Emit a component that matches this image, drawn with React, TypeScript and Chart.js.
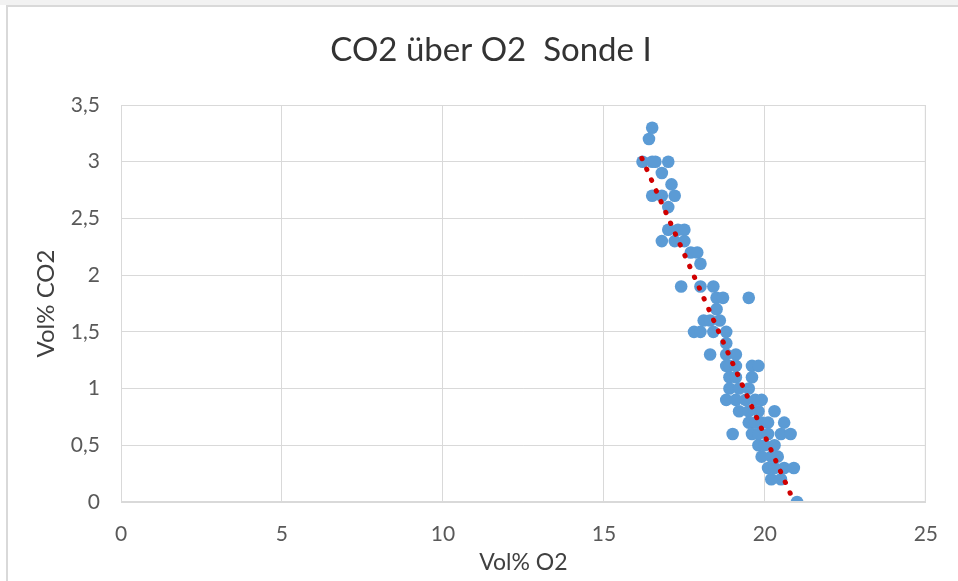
import React, { useEffect, useRef } from "react";
import { Chart, registerables } from "chart.js";

Chart.register(...registerables);

// Measured points: Vol% O2 (x) and Vol% CO2 (y)
const o2Values: number[] = [
  16.5, 16.4,
  16.2, 16.5, 16.6, 17.0,
  16.8, 17.1,
  16.5, 16.8, 17.2, 17.0,
  17.0, 17.3, 17.5,
  16.8, 17.2, 17.5,
  17.7, 17.9, 18.0,
  17.4, 18.0, 18.4,
  18.5, 18.7, 19.5, 18.5,
  18.1, 18.3, 18.6,
  17.8, 18.0, 18.4, 18.8,
  18.8,
  18.3, 18.8, 19.1,
  18.8, 18.9, 19.1, 19.6, 19.8,
  18.9, 19.1, 19.6,
  18.9, 19.2, 19.5,
  18.8, 19.1, 19.4, 19.7, 19.9,
  19.2, 19.5, 19.8, 20.3,
  19.5, 19.7, 19.9, 20.1, 20.6,
  19.0, 19.6, 19.8, 20.1, 20.5, 20.8,
  19.8, 20.0, 20.3,
  19.9, 20.2, 20.4,
  20.1, 20.3, 20.6, 20.9,
  20.2, 20.5,
  21.0,
];
const co2Values: number[] = [
  3.3, 3.2,
  3.0, 3.0, 3.0, 3.0,
  2.9, 2.8,
  2.7, 2.7, 2.7, 2.6,
  2.4, 2.4, 2.4,
  2.3, 2.3, 2.3,
  2.2, 2.2, 2.1,
  1.9, 1.9, 1.9,
  1.8, 1.8, 1.8, 1.7,
  1.6, 1.6, 1.6,
  1.5, 1.5, 1.5, 1.5,
  1.4,
  1.3, 1.3, 1.3,
  1.2, 1.2, 1.2, 1.2, 1.2,
  1.1, 1.1, 1.1,
  1.0, 1.0, 1.0,
  0.9, 0.9, 0.9, 0.9, 0.9,
  0.8, 0.8, 0.8, 0.8,
  0.7, 0.7, 0.7, 0.7, 0.7,
  0.6, 0.6, 0.6, 0.6, 0.6, 0.6,
  0.5, 0.5, 0.5,
  0.4, 0.4, 0.4,
  0.3, 0.3, 0.3, 0.3,
  0.2, 0.2,
  0.0,
];

// Linear trend line end points
const trendO2: number[] = [16.18, 20.83];
const trendCO2: number[] = [3.03, 0.05];

const titleText = "CO2 über O2  Sonde I";
const xTitle = "Vol% O2";
const yTitle = "Vol% CO2";

const FONT = "Lato, 'Open Sans', sans-serif";

export default function App() {
  const canvasRef = useRef<HTMLCanvasElement | null>(null);

  useEffect(() => {
    const canvas = canvasRef.current;
    if (!canvas) return;
    const points = o2Values.map((x, i) => ({ x, y: co2Values[i] }));
    const trend = trendO2.map((x, i) => ({ x, y: trendCO2[i] }));

    const chart = new Chart(canvas, {
      type: "scatter",
      data: {
        datasets: [
          {
            type: "line",
            label: "Trend",
            data: trend,
            showLine: true,
            borderColor: "#D00000",
            borderWidth: 5,
            borderDash: [0.5, 11.3],
            borderCapStyle: "round",
            pointRadius: 0,
            fill: false,
            order: 0,
          } as any,
          {
            label: "CO2",
            data: points,
            backgroundColor: "#5B9BD5",
            borderWidth: 0,
            pointRadius: 6.3,
            pointHoverRadius: 6.3,
            order: 1,
          },
        ],
      },
      options: {
        responsive: false,
        animation: false,
        devicePixelRatio: 1,
        events: [],
        layout: { padding: { left: 0, right: 29, top: 105, bottom: 0 } },
        plugins: {
          legend: { display: false },
          tooltip: { enabled: false },
          title: { display: false },
        },
        scales: {
          x: {
            type: "linear",
            min: 0,
            max: 25,
            afterFit: (s: any) => {
              s.height = 79;
            },
            ticks: {
              stepSize: 5,
              padding: 20,
              color: "#595959",
              font: { family: FONT, size: 21 },
            },
            grid: { color: "#d9d9d9", drawTicks: false, lineWidth: 1 },
            border: { color: "#d9d9d9" },
            title: {
              display: true,
              text: xTitle,
              color: "#404040",
              font: { family: FONT, size: 23 },
              padding: { top: 0, bottom: 5 },
            },
          },
          y: {
            type: "linear",
            min: 0,
            max: 3.5,
            afterFit: (s: any) => {
              s.width = 121;
            },
            ticks: {
              stepSize: 0.5,
              padding: 21,
              color: "#595959",
              font: { family: FONT, size: 21 },
              callback: (v: any) => String(v).replace(".", ","),
            },
            grid: { color: "#d9d9d9", drawTicks: false, lineWidth: 1 },
            border: { color: "#d9d9d9" },
            title: {
              display: true,
              text: yTitle,
              color: "#404040",
              font: { family: FONT, size: 24 },
              padding: { top: 32, bottom: 0 },
            },
          },
        },
      },
      plugins: [
        {
          id: "plotBorderAndTitle",
          afterDraw(c: any) {
            const { left, right, top, bottom } = c.chartArea;
            const ctx = c.ctx;
            ctx.save();
            ctx.strokeStyle = "#d9d9d9";
            ctx.lineWidth = 1;
            ctx.strokeRect(left + 0.5, top + 0.5, right - left - 1, bottom - top - 1);
            ctx.fillStyle = "#333333";
            ctx.font = `33px ${FONT}`;
            ctx.textAlign = "center";
            ctx.textBaseline = "middle";
            ctx.fillText(titleText, 491, 50);
            ctx.restore();
          },
        },
      ],
    });
    return () => chart.destroy();
  }, []);

  return (
    <div
      style={{
        position: "fixed",
        left: 0,
        top: 0,
        width: 958,
        height: 581,
        background: "#ffffff",
        overflow: "hidden",
      }}
    >
      <div
        style={{
          position: "absolute",
          left: 0,
          top: 0,
          right: 0,
          height: 5,
          background: "#f2f2f2",
        }}
      />
      <div
        style={{
          position: "absolute",
          left: 6,
          top: 5,
          right: -4,
          bottom: -4,
          borderLeft: "2px solid #d9d9d9",
          borderTop: "2px solid #d9d9d9",
        }}
      />
      <canvas
        ref={canvasRef}
        width={958}
        height={581}
        style={{ position: "absolute", left: 0, top: 0, width: 958, height: 581 }}
      />
    </div>
  );
}
